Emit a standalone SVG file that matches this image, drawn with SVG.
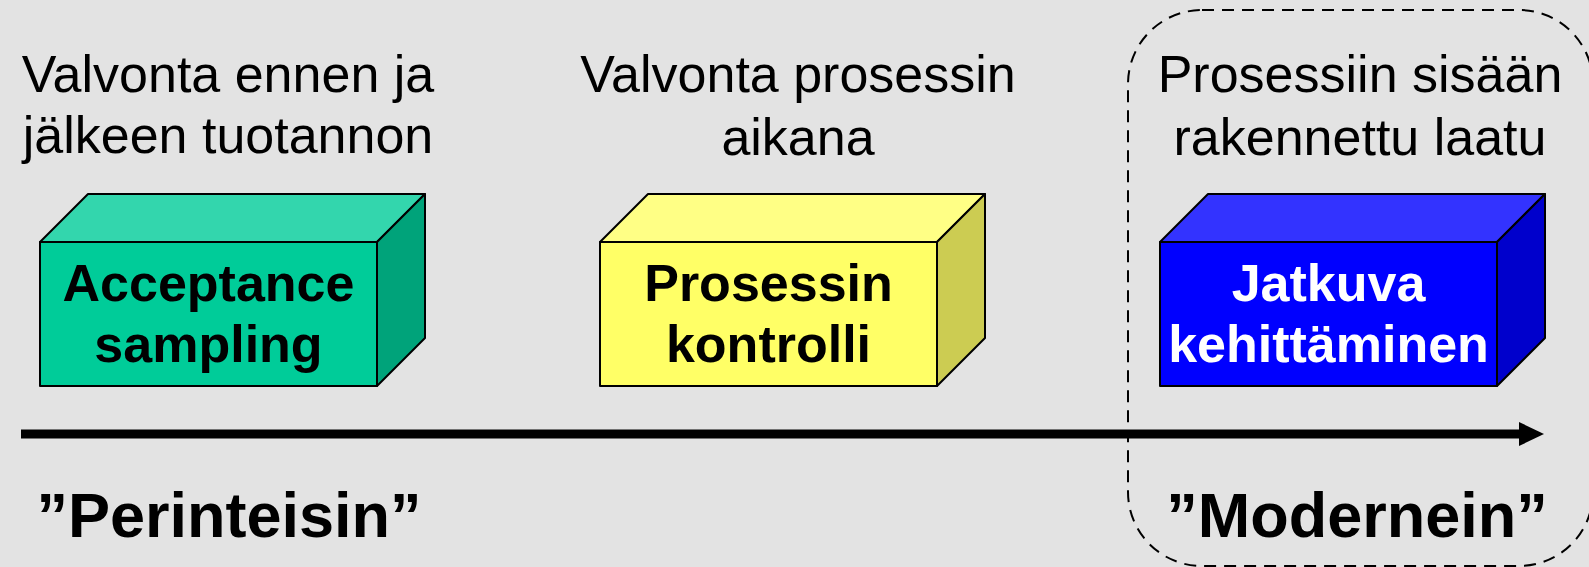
<svg xmlns="http://www.w3.org/2000/svg" width="1589" height="567" viewBox="0 0 1589 567">
  <defs>
    <style>
      .caption { font-family: "Liberation Sans", Arial, sans-serif; font-size: 52px; fill: #000; text-anchor: middle; }
      .label { font-family: "Liberation Sans", Arial, sans-serif; font-size: 52px; font-weight: bold; text-anchor: middle; }
      .era { font-family: "Liberation Sans", Arial, sans-serif; font-size: 63px; font-weight: bold; fill: #000; text-anchor: middle; }
      .face { stroke: #000; stroke-width: 2; stroke-linejoin: round; }
      .dashed { fill: none; stroke: #000; stroke-width: 2; stroke-dasharray: 12 8; }
    </style>
  </defs>

  <rect width="1589" height="567" fill="#E3E3E3"/>

  <!-- column captions -->
  <g id="caption-before-after">
    <text class="caption" x="228" y="92">Valvonta ennen ja</text>
    <text class="caption" x="228" y="153">jälkeen tuotannon</text>
  </g>
  <g id="caption-during">
    <text class="caption" x="798" y="92">Valvonta prosessin</text>
    <text class="caption" x="798" y="155">aikana</text>
  </g>
  <g id="caption-built-in">
    <text class="caption" x="1360" y="92">Prosessiin sisään</text>
    <text class="caption" x="1360" y="155">rakennettu laatu</text>
  </g>

  <!-- boxes: top face, right side face, front face -->
  <g id="node-acceptance-sampling">
    <polygon class="face" fill="#33D6AD" points="40,242 88,194 425,194 377,242"/>
    <polygon class="face" fill="#00A37A" points="377,242 425,194 425,338 377,386"/>
    <rect class="face" fill="#00CC99" x="40" y="242" width="337" height="144"/>
    <text class="label" fill="#000" x="208.5" y="301">Acceptance</text>
    <text class="label" fill="#000" x="208.5" y="362">sampling</text>
  </g>

  <g id="node-prosessin-kontrolli">
    <polygon class="face" fill="#FFFF85" points="600,242 648,194 985,194 937,242"/>
    <polygon class="face" fill="#CCCC52" points="937,242 985,194 985,338 937,386"/>
    <rect class="face" fill="#FFFF66" x="600" y="242" width="337" height="144"/>
    <text class="label" fill="#000" x="768.5" y="301">Prosessin</text>
    <text class="label" fill="#000" x="768.5" y="362">kontrolli</text>
  </g>

  <g id="node-jatkuva-kehittaminen">
    <polygon class="face" fill="#3333FF" points="1160,242 1208,194 1545,194 1497,242"/>
    <polygon class="face" fill="#0000CC" points="1497,242 1545,194 1545,338 1497,386"/>
    <rect class="face" fill="#0000FF" x="1160" y="242" width="337" height="144"/>
    <text class="label" fill="#FFF" x="1328.5" y="301">Jatkuva</text>
    <text class="label" fill="#FFF" x="1328.5" y="362">kehittäminen</text>
  </g>

  <!-- timeline arrow -->
  <g id="connectors">
    <line x1="21" y1="434" x2="1521" y2="434" stroke="#000" stroke-width="9"/>
    <polygon points="1519,422 1544,434 1519,446" fill="#000"/>
  </g>

  <!-- dashed outline around the modern approach -->
  <g id="group-modern">
    <rect class="dashed" x="1128" y="10" width="465" height="556" rx="74" ry="74"/>
  </g>

  <!-- era labels -->
  <g id="label-traditional">
    <text class="era" x="229" y="537">”Perinteisin”</text>
  </g>
  <g id="label-modern">
    <text class="era" x="1357" y="537">”Modernein”</text>
  </g>
</svg>
